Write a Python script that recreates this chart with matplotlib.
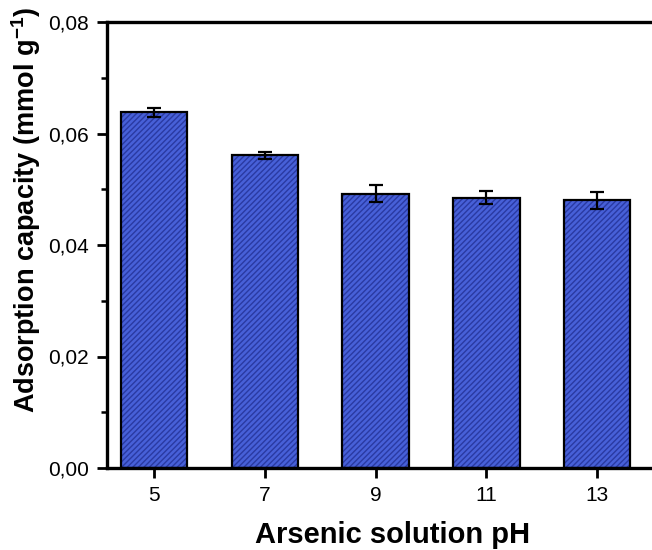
import matplotlib

matplotlib.use("Agg")
import matplotlib.pyplot as plt
from matplotlib.ticker import FuncFormatter, MultipleLocator

plt.rcParams["font.family"] = ["Liberation Sans", "DejaVu Sans"]
plt.rcParams["hatch.linewidth"] = 1.0
plt.rcParams["mathtext.fontset"] = "custom"
plt.rcParams["mathtext.bf"] = "Liberation Sans:bold"
plt.rcParams["mathtext.rm"] = "Liberation Sans"

# Werte
ph_values = [5, 7, 9, 11, 13]
capacity = [0.0638, 0.0561, 0.0492, 0.0485, 0.0480]
capacity_err = [0.0008, 0.0006, 0.0015, 0.0012, 0.0015]

W, H = 652, 550
fig = plt.figure(figsize=(W / 100, H / 100), dpi=100)
# Achse ragt rechts ueber den Bildrand hinaus (wie im Original beschnitten)
ax = fig.add_axes([107 / W, 82 / H, 555 / W, 446 / H])

# Fuellung mit Schraffur, dann schwarzer Rahmen darueber
ax.bar(ph_values, capacity, width=1.2, color="#4760d8", edgecolor="#2a3aa2",
       hatch="//////", linewidth=0, zorder=2)
ax.bar(ph_values, capacity, width=1.2, facecolor="none", edgecolor="black",
       linewidth=1.6, zorder=3)
ax.errorbar(ph_values, capacity, yerr=capacity_err, fmt="none", ecolor="black",
            elinewidth=1.6, capsize=5, capthick=1.6, zorder=4)

ax.set_xlim(4.152, 14.17)
ax.set_ylim(0, 0.08)
ax.set_xticks(ph_values)
ax.yaxis.set_major_locator(MultipleLocator(0.02))
ax.yaxis.set_minor_locator(MultipleLocator(0.01))
ax.yaxis.set_major_formatter(FuncFormatter(lambda v, _: f"{v:.2f}".replace(".", ",")))

for side in ["left", "bottom", "top", "right"]:
    ax.spines[side].set_linewidth(2.4)

ax.tick_params(axis="both", which="major", direction="out", length=7, width=2.0,
               labelsize=15, pad=6, top=False, right=False)
ax.tick_params(axis="y", which="minor", direction="out", length=4, width=1.8)

ax.set_xlabel("Arsenic solution pH", fontsize=21, fontweight="bold")
ax.set_ylabel("Adsorption capacity (mmol g$^{\\mathbf{-1}}$)", fontsize=19.5,
              fontweight="bold")
ax.xaxis.set_label_coords(0.515, -0.118)
ax.yaxis.set_label_coords(-0.115, 0.578)

fig.savefig("out.png", dpi=100)
